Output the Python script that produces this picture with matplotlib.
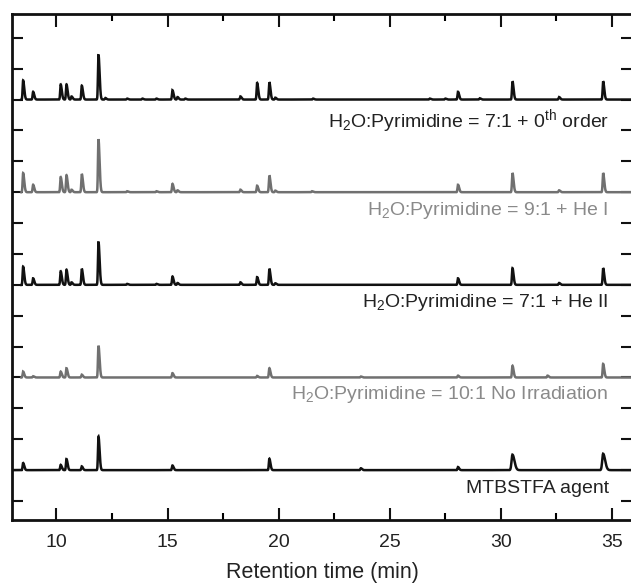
import numpy as np
import matplotlib
matplotlib.use("Agg")
import matplotlib.pyplot as plt
from matplotlib.ticker import MultipleLocator

plt.rcParams['font.family'] = ['Liberation Sans', 'DejaVu Sans']
plt.rcParams['mathtext.fontset'] = 'custom'
plt.rcParams['mathtext.rm'] = 'Liberation Sans'
plt.rcParams['mathtext.it'] = 'Liberation Sans:italic'

# ---- data: peak retention times (min) and heights (tick units) ----
labels = [r'H$_\mathregular{2}$O:Pyrimidine = 7:1 + 0$^\mathregular{th}$ order',
          r'H$_\mathregular{2}$O:Pyrimidine = 9:1 + He I',
          r'H$_\mathregular{2}$O:Pyrimidine = 7:1 + He II',
          r'H$_\mathregular{2}$O:Pyrimidine = 10:1 No Irradiation',
          'MTBSTFA agent']
baselines = [13, 10, 7, 4, 1]
start_times = [8.42, 8.42, 8.42, 8.42, 8.0]

t_zeroth = [8.50, 8.95, 10.19, 10.45, 10.68, 11.14, 11.89, 12.2, 13.18, 13.87, 14.5,
            15.22, 15.45, 15.8, 18.28, 19.03, 19.58, 19.85, 21.55, 26.8, 27.5,
            28.07, 29.05, 30.52, 32.62, 34.6]
h_zeroth = [0.62, 0.25, 0.49, 0.49, 0.10, 0.45, 1.46, 0.05, 0.03, 0.03, 0.03,
            0.30, 0.08, 0.03, 0.10, 0.54, 0.56, 0.06, 0.03, 0.03, 0.03,
            0.25, 0.04, 0.59, 0.08, 0.59]

t_he1 = [8.50, 8.95, 10.19, 10.45, 10.68, 11.14, 11.89, 13.18, 14.5, 15.22, 15.45,
         18.28, 19.03, 19.58, 19.85, 21.5, 28.07, 30.52, 32.62, 34.6]
h_he1 = [0.62, 0.24, 0.49, 0.55, 0.08, 0.59, 1.72, 0.03, 0.03, 0.27, 0.06,
         0.08, 0.21, 0.54, 0.05, 0.03, 0.24, 0.62, 0.06, 0.62]

t_he2 = [8.50, 8.95, 10.19, 10.45, 10.68, 11.14, 11.89, 13.18, 14.5, 15.22, 15.45,
         18.28, 19.03, 19.58, 19.85, 28.07, 30.52, 32.62, 34.6]
h_he2 = [0.59, 0.21, 0.44, 0.49, 0.08, 0.52, 1.40, 0.03, 0.03, 0.27, 0.06,
         0.08, 0.25, 0.52, 0.05, 0.21, 0.54, 0.06, 0.54]

t_noirr = [8.50, 8.95, 10.19, 10.45, 11.14, 11.89, 15.22, 19.03, 19.58, 23.7,
           28.07, 30.52, 32.1, 34.6]
h_noirr = [0.19, 0.04, 0.19, 0.30, 0.09, 1.03, 0.14, 0.05, 0.30, 0.03,
           0.06, 0.38, 0.06, 0.44]

t_mtb = [8.50, 10.19, 10.45, 11.14, 11.89, 15.22, 19.58, 23.7, 28.07, 30.52, 34.6]
h_mtb = [0.23, 0.17, 0.36, 0.12, 1.09, 0.15, 0.37, 0.06, 0.10, 0.50, 0.53]

peak_times = [t_zeroth, t_he1, t_he2, t_noirr, t_mtb]
peak_heights = [h_zeroth, h_he1, h_he2, h_noirr, h_mtb]
colors = ['#111111', '#707070', '#111111', '#707070', '#111111']
text_colors = ['#222222', '#8a8a8a', '#222222', '#8a8a8a', '#222222']
label_y = [12.12, 9.27, 6.27, 3.30, 0.26]

# ---- figure ----
W, H = 631, 584
fig = plt.figure(figsize=(W / 100, H / 100), dpi=100)
left_px, right_px, top_px, bottom_px = 12, 632, 14, 520
ax = fig.add_axes([left_px / W, (H - bottom_px) / H,
                   (right_px - left_px) / W, (bottom_px - top_px) / H])

x_max = 35.9
for times, heights, base, t0, col in zip(peak_times, peak_heights, baselines,
                                         start_times, colors):
    t = np.arange(t0, x_max, 0.004)
    y = np.full_like(t, float(base))
    for tp, hp in zip(times, heights):
        wl, wr = (0.022, 0.05)
        if tp > 30 and base == 1:
            wl, wr = (0.04, 0.09)
        d = t - tp
        sig = np.where(d < 0, wl, wr)
        y += hp * np.exp(-0.5 * (d / sig) ** 2)
    ax.plot(t, y, color=col, lw=1.8, solid_joinstyle='miter')

for lab, ly, tc in zip(labels, label_y, text_colors):
    ax.text(34.85, ly, lab, ha='right', va='baseline', fontsize=14, color=tc)

ax.set_xlim(8.0, x_max)
ax.set_ylim(-0.615, 15.77)
ax.xaxis.set_major_locator(MultipleLocator(5))
ax.xaxis.set_minor_locator(MultipleLocator(2.5))
ax.yaxis.set_major_locator(MultipleLocator(1))
ax.set_yticklabels([])
ax.tick_params(axis='both', which='major', direction='in', top=True, right=True,
               length=9, width=1.5, labelsize=14, color='#111111', labelcolor='#222222')
ax.tick_params(axis='x', which='major', pad=10)
ax.tick_params(axis='x', which='minor', direction='in', top=True, bottom=True,
               length=5, width=1.5)
ax.tick_params(axis='y', which='major', length=8)
for s in ax.spines.values():
    s.set_linewidth(2)
    s.set_color('#111111')
ax.set_xlabel('Retention time (min)', fontsize=15.5, color='#222222', labelpad=8)

fig.savefig('out.png', dpi=100)
